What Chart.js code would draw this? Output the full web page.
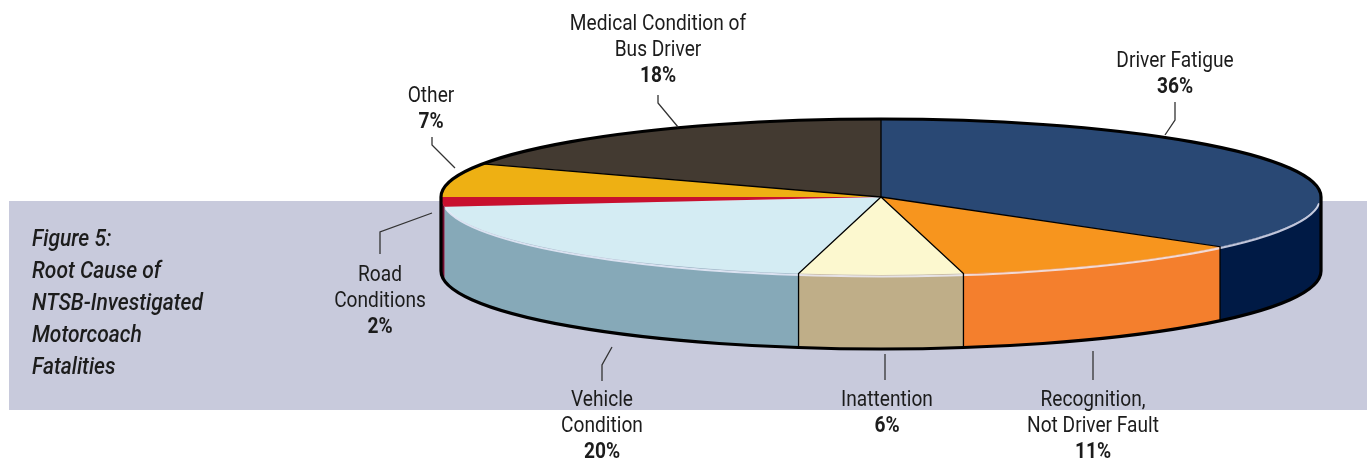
<!DOCTYPE html>
<html>
<head>
<meta charset="utf-8">
<script src="https://cdn.jsdelivr.net/npm/chart.js@4"></script>
<style>
html, body { margin: 0; padding: 0; background: #fff; overflow: hidden; }
</style>
</head>
<body>
<canvas id="pie3d" width="1367" height="460"></canvas>
<script>
// data
var causes = ['Driver Fatigue', 'Recognition, Not Driver Fault', 'Inattention', 'Vehicle Condition', 'Road Conditions', 'Other', 'Medical Condition of Bus Driver'];
var shares = [36, 11, 6, 20, 2, 7, 18];
var topColors = ['#294874', '#f7951e', '#fcf8cf', '#d4ecf3', '#c8102e', '#eeb013', '#433a31'];
var sideColors = ['#001a45', '#f47f2d', '#bfae88', '#86a9b8', '#6e0b2c', '#b88400', '#2a241e'];
var labelLines = [['Driver Fatigue'], ['Recognition,', 'Not Driver Fault'], ['Inattention'], ['Vehicle', 'Condition'], ['Road', 'Conditions'], ['Other'], ['Medical Condition of', 'Bus Driver']];
var titleLines = ['Figure 5:', 'Root Cause of', 'NTSB-Investigated', 'Motorcoach', 'Fatalities'];

// layout (pixels)
var RX = 440, RY = 78, DEPTH = 74;
var labelBox = [
    { x: 1175, y: 67, lead: [[1175, 102], [1175, 120], [1165, 135]] },
    { x: 1093, y: 406, lead: [[1093, 351], [1093, 380]] },
    { x: 887, y: 406, lead: [[885, 354], [885, 380]] },
    { x: 602, y: 406, lead: [[612, 347], [602, 365], [602, 381]] },
    { x: 380, y: 281, lead: [[432, 213], [380, 232], [380, 254]] },
    { x: 431, y: 102, lead: [[432, 137], [432, 145], [455, 168]] },
    { x: 658, y: 30, lead: [[658, 95], [658, 103], [678, 127]] }
];

function ellPt(cx, cy, a) {
    return [cx + RX * Math.cos(a), cy + RY * Math.sin(a)];
}

function condensedText(ctx, str, x, y, font, sx, align) {
    ctx.save();
    ctx.font = font;
    ctx.translate(x, y);
    ctx.scale(sx, 1);
    ctx.textAlign = align;
    ctx.fillText(str, 0, 0);
    ctx.restore();
}

const pie3d = {
    id: 'pie3d',
    beforeDraw(chart) {
        const ctx = chart.ctx;
        ctx.save();
        ctx.fillStyle = '#c8cadc';
        ctx.fillRect(9, 201, chart.width - 9, 209);
        ctx.restore();
    },
    beforeDatasetsDraw(chart) {
        const ctx = chart.ctx;
        const arcs = chart.getDatasetMeta(0).data;
        const cx = arcs[0].x, cy = arcs[0].y, r = arcs[0].outerRadius;
        // side walls, only the front half shows
        arcs.forEach((el, i) => {
            const a0 = Math.max(el.startAngle, 0);
            const a1 = Math.min(el.endAngle, Math.PI);
            if (a1 <= a0) return;
            ctx.beginPath();
            ctx.ellipse(cx, cy, RX, RY, 0, a0, a1);
            ctx.ellipse(cx, cy + DEPTH, RX, RY, 0, a1, a0, true);
            ctx.closePath();
            ctx.fillStyle = sideColors[i];
            ctx.fill();
        });
        // squash the library's pie into the top face
        ctx.save();
        ctx.translate(cx, cy);
        ctx.scale(RX / r, RY / r);
        ctx.translate(-cx, -cy);
    },
    afterDatasetsDraw(chart) {
        const ctx = chart.ctx;
        ctx.restore();
        const arcs = chart.getDatasetMeta(0).data;
        const cx = arcs[0].x, cy = arcs[0].y;

        // light rim along the front edge
        ctx.save();
        ctx.beginPath();
        ctx.ellipse(cx, cy + 1.5, RX - 1, RY, 0, 0.02 * Math.PI, 0.96 * Math.PI);
        ctx.strokeStyle = 'rgba(240,240,255,0.8)';
        ctx.lineWidth = 2;
        ctx.stroke();

        // slice borders on top and on the side
        ctx.strokeStyle = '#000';
        ctx.lineWidth = 1.3;
        arcs.forEach((el, i) => {
            if (i === 4 || i === 5) return;
            const p = ellPt(cx, cy, el.startAngle);
            ctx.beginPath();
            ctx.moveTo(cx, cy);
            ctx.lineTo(p[0], p[1]);
            if (el.startAngle > 0 && el.startAngle < Math.PI) {
                ctx.lineTo(p[0], p[1] + DEPTH);
            }
            ctx.stroke();
        });

        // outer outline
        ctx.beginPath();
        ctx.ellipse(cx, cy, RX, RY, 0, Math.PI, 2 * Math.PI);
        ctx.lineTo(cx + RX, cy + DEPTH);
        ctx.ellipse(cx, cy + DEPTH, RX, RY, 0, 0, Math.PI);
        ctx.closePath();
        ctx.lineWidth = 3.2;
        ctx.lineJoin = 'round';
        ctx.stroke();
        ctx.restore();
    },
    afterDraw(chart) {
        const ctx = chart.ctx;
        ctx.save();
        ctx.fillStyle = '#1c1c1c';

        // title block on the band
        const tFont = 'italic 500 24px Roboto';
        ctx.font = tFont;
        const tScale = 171 / ctx.measureText('NTSB-Investigated').width;
        titleLines.forEach((t, k) => {
            condensedText(ctx, t, 32, 246 + k * 32, tFont, tScale, 'left');
        });

        // slice labels with leader lines
        const lFont = '22px Roboto';
        const pFont = 'bold 22px Roboto';
        ctx.font = lFont;
        const lScale = 132 / ctx.measureText('Not Driver Fault').width;
        labelBox.forEach((b, i) => {
            const lines = labelLines[i];
            lines.forEach((t, k) => {
                condensedText(ctx, t, b.x, b.y + k * 26, lFont, lScale, 'center');
            });
            condensedText(ctx, shares[i] + '%', b.x, b.y + lines.length * 26, pFont, lScale, 'center');
            ctx.beginPath();
            b.lead.forEach((p, k) => {
                if (k === 0) ctx.moveTo(p[0], p[1]); else ctx.lineTo(p[0], p[1]);
            });
            ctx.strokeStyle = '#333';
            ctx.lineWidth = 1.3;
            ctx.stroke();
        });
        ctx.restore();
    }
};

new Chart(document.getElementById('pie3d'), {
    type: 'pie',
    data: {
        labels: causes,
        datasets: [{
            data: shares,
            backgroundColor: topColors,
            borderWidth: 0,
            hoverOffset: 0,
            clip: false
        }]
    },
    options: {
        responsive: false,
        animation: false,
        events: [],
        layout: { padding: { left: 684, right: 289, top: 0, bottom: 66 } },
        plugins: {
            legend: { display: false },
            tooltip: { enabled: false }
        }
    },
    plugins: [pie3d]
});
</script>
</body>
</html>
